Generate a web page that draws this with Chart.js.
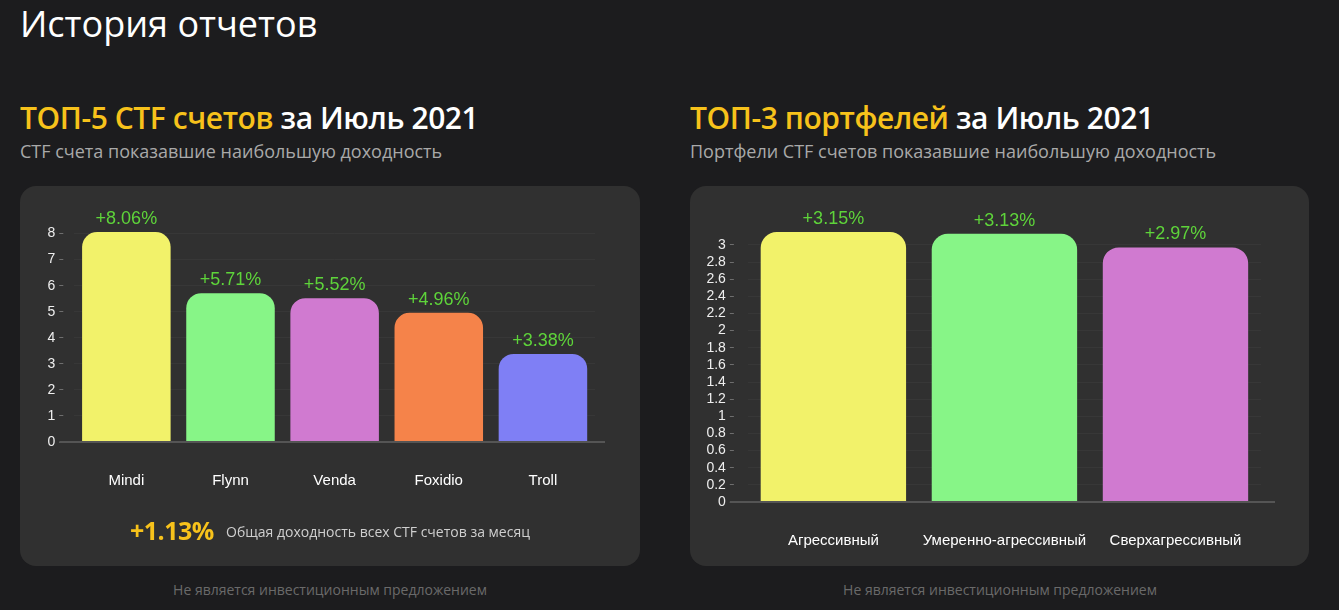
<!DOCTYPE html>
<html lang="ru">
<head>
<meta charset="utf-8">
<title>История отчетов</title>
<script src="https://cdn.jsdelivr.net/npm/chart.js@4.4.1/dist/chart.umd.min.js"></script>
<style>
  html, body { margin: 0; padding: 0; }
  body {
    width: 1339px;
    height: 610px;
    background: #1c1c1e;
    font-family: "Open Sans", sans-serif;
    position: relative;
    overflow: hidden;
    color: #fff;
  }
  .abs { position: absolute; white-space: nowrap; }
  .title { left: 20px; top: 6px; font-size: 36px; line-height: 36px; font-weight: 400; }
  .head { top: 103.4px; font-size: 30px; line-height: 30px; font-weight: 600; letter-spacing: -0.42px; }
  .head .hl { color: #f7c21b; }
  .sub { top: 142px; font-size: 18px; line-height: 18px; color: #a9a9a9; }
  .card { top: 186px; width: 620px; height: 380px; background: #303030; border-radius: 16px; }
  .chart-box { position: absolute; }
  .total { left: 130px; top: 517.8px; font-size: 25px; line-height: 25px; font-weight: 700; color: #f7c21b; letter-spacing: -0.5px; }
  .total-desc { left: 226px; top: 524.9px; font-size: 14px; line-height: 14px; color: #cfcfcf; }
  .foot { top: 583.3px; font-size: 14px; line-height: 14px; color: #6a6a6a; transform: translateX(-50%); }
</style>
</head>
<body>
  <div class="abs title">История отчетов</div>

  <div class="abs head" style="left:20px"><span class="hl">ТОП-5 CTF счетов</span> за Июль 2021</div>
  <div class="abs sub" style="left:20px">CTF счета показавшие наибольшую доходность</div>

  <div class="abs head" style="left:690px"><span class="hl">ТОП-3 портфелей</span> за Июль 2021</div>
  <div class="abs sub" style="left:690px">Портфели CTF счетов показавшие наибольшую доходность</div>

  <div class="abs card" style="left:20px"></div>
  <div class="abs card" style="left:690px; width:619px"></div>

  <div class="chart-box" style="left:20px; top:196px; width:620px; height:324px;">
    <canvas id="ctfChart"></canvas>
  </div>
  <div class="chart-box" style="left:690px; top:196px; width:619px; height:384px;">
    <canvas id="portfolioChart"></canvas>
  </div>

  <div class="abs total" id="totalValue"></div>
  <div class="abs total-desc">Общая доходность всех CTF счетов за месяц</div>

  <div class="abs foot" style="left:330px">Не является инвестиционным предложением</div>
  <div class="abs foot" style="left:1000px">Не является инвестиционным предложением</div>

<script>
// CTF accounts, July 2021
const ctfLabels = ["Mindi", "Flynn", "Venda", "Foxidio", "Troll"];
const ctfValues = [8.06, 5.71, 5.52, 4.96, 3.38];
const ctfColors = ["#f2f26a", "#87f587", "#d07ad0", "#f5834a", "#7f7ff5"];

// portfolios, July 2021
const portfolioLabels = ["Агрессивный", "Умеренно-агрессивный", "Сверхагрессивный"];
const portfolioValues = [3.15, 3.13, 2.97];
const portfolioColors = ["#f2f26a", "#87f587", "#d07ad0"];

const totalReturn = 1.13;

const fmt = (v) => `+${v.toFixed(2)}%`;

document.getElementById("totalValue").innerText = fmt(totalReturn);

Chart.defaults.font.family = "Arial, 'Liberation Sans', sans-serif";
Chart.defaults.animation = false;

// value labels above bars
const valueLabels = {
  id: "valueLabels",
  afterDatasetsDraw(chart) {
    const { ctx } = chart;
    const meta = chart.getDatasetMeta(0);
    const data = chart.data.datasets[0].data;
    ctx.save();
    ctx.font = "18px Arial, 'Liberation Sans', sans-serif";
    ctx.fillStyle = "#5ed43a";
    ctx.textAlign = "center";
    ctx.textBaseline = "bottom";
    meta.data.forEach((bar, i) => {
      ctx.fillText(fmt(data[i]), bar.x, bar.y - 4);
    });
    ctx.restore();
  },
};

// grey zero line that runs a bit past the plot area
const zeroLine = {
  id: "zeroLine",
  afterDatasetsDraw(chart, args, opts) {
    const { ctx, chartArea, scales } = chart;
    const y = scales.y.getPixelForValue(0);
    ctx.save();
    ctx.strokeStyle = "#555555";
    ctx.lineWidth = 2;
    ctx.beginPath();
    ctx.moveTo(chartArea.left - opts.left, y);
    ctx.lineTo(chartArea.right + opts.right, y);
    ctx.stroke();
    ctx.restore();
  },
};

function makeChart(canvasId, labels, values, colors, cfg) {
  return new Chart(document.getElementById(canvasId), {
    type: "bar",
    data: {
      labels: labels,
      datasets: [
        {
          data: values,
          backgroundColor: colors,
          borderRadius: cfg.radius,
          borderSkipped: "start",
          barPercentage: 0.85,
          categoryPercentage: 1,
        },
      ],
    },
    options: {
      responsive: true,
      maintainAspectRatio: false,
      layout: { padding: cfg.padding },
      plugins: {
        legend: { display: false },
        tooltip: { enabled: false },
        zeroLine: { left: cfg.tickLength, right: cfg.rightExt },
      },
      scales: {
        x: {
          grid: { display: false, drawTicks: false },
          border: { display: false },
          ticks: { color: "#ffffff", font: { size: 15 }, padding: 30 },
        },
        y: {
          min: 0,
          max: Math.max(...values),
          bounds: "data",
          grid: {
            color: "rgba(255,255,255,0.035)",
            tickColor: "rgba(255,255,255,0.3)",
            tickLength: cfg.tickLength,
            tickBorderDash: [4, 40],
          },
          border: { display: false },
          ticks: {
            color: "#eeeeee",
            font: { size: 14 },
            stepSize: cfg.step,
            includeBounds: false,
            autoSkip: false,
            padding: 4,
            callback: (v) => String(Number(v.toFixed(1))),
          },
        },
      },
    },
    plugins: [zeroLine, valueLabels],
  });
}

makeChart("ctfChart", ctfLabels, ctfValues, ctfColors, {
  radius: 15,
  step: 1,
  tickLength: 15,
  rightExt: 10,
  padding: { top: 36, left: 23.5, right: 45, bottom: 0 },
});

makeChart("portfolioChart", portfolioLabels, portfolioValues, portfolioColors, {
  radius: 16,
  step: 0.2,
  tickLength: 18,
  rightExt: 14,
  padding: { top: 36, left: 12.4, right: 48, bottom: 0 },
});
</script>
</body>
</html>
